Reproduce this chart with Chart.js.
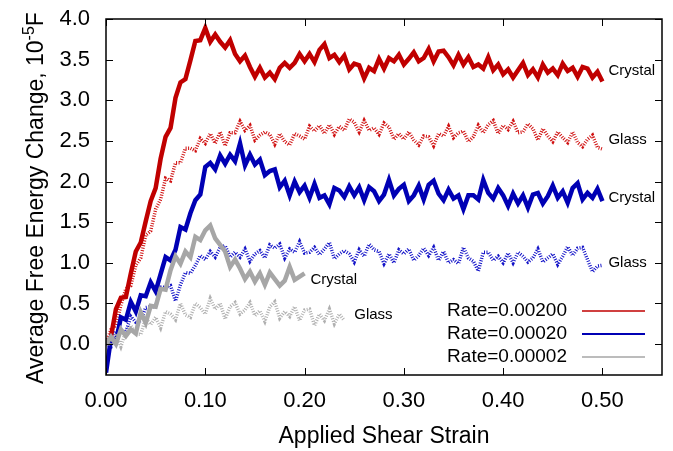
<!DOCTYPE html>
<html>
<head>
<meta charset="utf-8">
<script src="https://cdn.jsdelivr.net/npm/chart.js@4.4.1/dist/chart.umd.min.js"></script>
<style>
  html, body { margin: 0; padding: 0; background: #fff; }
</style>
</head>
<body>
<canvas id="energyCanvas" width="673" height="451"></canvas>
<script>
// strain grid spacing of the sampled curves
var strainStep = 0.005;

var rateLabels = ["Rate=0.00200", "Rate=0.00020", "Rate=0.00002"];
var xTicks = [0, 0.1, 0.2, 0.3, 0.4, 0.5];
var yTicks = [0, 0.5, 1, 1.5, 2, 2.5, 3, 3.5, 4];

// Rate=0.00200
var redCrystal = [
  0.00, 0.09, 0.43, 0.57, 0.58, 0.87, 1.14, 1.25, 1.51, 1.76,
  1.92, 2.28, 2.55, 2.66, 3.03, 3.22, 3.26, 3.49, 3.73, 3.74,
  3.89, 3.72, 3.81, 3.72, 3.65, 3.74, 3.57, 3.48, 3.55, 3.41,
  3.29, 3.40, 3.28, 3.34, 3.26, 3.40, 3.46, 3.40, 3.46, 3.57,
  3.48, 3.57, 3.47, 3.62, 3.69, 3.52, 3.56, 3.47, 3.55, 3.38,
  3.45, 3.43, 3.27, 3.40, 3.36, 3.51, 3.39, 3.52, 3.48, 3.56,
  3.44, 3.51, 3.59, 3.48, 3.52, 3.63, 3.48, 3.60, 3.61, 3.53,
  3.43, 3.56, 3.44, 3.53, 3.41, 3.44, 3.39, 3.53, 3.37, 3.44,
  3.32, 3.38, 3.28, 3.37, 3.46, 3.31, 3.38, 3.28, 3.44, 3.34,
  3.39, 3.31, 3.45, 3.36, 3.40, 3.29, 3.41, 3.39, 3.28, 3.35,
  3.23
];
var redGlass = [
  0.00, 0.18, 0.23, 0.48, 0.68, 0.72, 0.97, 1.06, 1.34, 1.39,
  1.66, 1.78, 2.04, 2.01, 2.23, 2.23, 2.41, 2.41, 2.38, 2.53,
  2.47, 2.59, 2.47, 2.61, 2.44, 2.60, 2.60, 2.74, 2.63, 2.69,
  2.51, 2.57, 2.61, 2.58, 2.46, 2.59, 2.49, 2.45, 2.59, 2.56,
  2.52, 2.68, 2.62, 2.69, 2.59, 2.70, 2.58, 2.68, 2.63, 2.77,
  2.73, 2.61, 2.75, 2.63, 2.66, 2.58, 2.72, 2.67, 2.52, 2.59,
  2.52, 2.61, 2.51, 2.45, 2.56, 2.55, 2.44, 2.59, 2.56, 2.68,
  2.54, 2.60, 2.62, 2.49, 2.55, 2.69, 2.60, 2.70, 2.75, 2.59,
  2.69, 2.64, 2.74, 2.60, 2.61, 2.71, 2.65, 2.51, 2.65, 2.56,
  2.49, 2.61, 2.54, 2.48, 2.61, 2.48, 2.43, 2.52, 2.57, 2.42,
  2.40
];

// Rate=0.00020
var blueCrystal = [
  -0.35, 0.07, 0.03, 0.33, 0.30, 0.52, 0.40, 0.60, 0.59, 0.76,
  0.65, 0.86, 1.07, 1.03, 1.16, 1.44, 1.41, 1.61, 1.77, 1.84,
  2.18, 2.23, 2.15, 2.32, 2.22, 2.33, 2.25, 2.47, 2.20, 2.33,
  2.21, 2.27, 2.08, 2.13, 2.15, 1.93, 2.01, 1.83, 2.00, 1.87,
  1.95, 1.80, 1.97, 1.80, 1.83, 1.72, 1.92, 1.89, 1.81, 1.94,
  1.83, 1.93, 1.77, 1.93, 1.88, 1.76, 1.84, 2.02, 1.83, 1.91,
  1.96, 1.76, 1.83, 1.95, 1.78, 1.96, 2.01, 1.85, 1.77, 1.90,
  1.79, 1.83, 1.66, 1.83, 1.83, 1.78, 2.02, 1.86, 1.79, 1.92,
  1.83, 1.70, 1.85, 1.73, 1.83, 1.68, 1.84, 1.86, 1.73, 1.82,
  1.95, 1.80, 1.88, 1.74, 1.92, 1.98, 1.78, 1.86, 1.80, 1.91,
  1.76
];
var blueGlass = [
  0.00, -0.03, 0.16, 0.17, 0.15, 0.34, 0.27, 0.29, 0.45, 0.46,
  0.46, 0.70, 0.70, 0.72, 0.53, 0.73, 0.88, 0.87, 0.97, 1.09,
  1.04, 1.14, 1.07, 1.19, 1.21, 1.07, 1.13, 1.07, 1.17, 1.02,
  1.11, 1.15, 1.06, 1.22, 1.18, 1.23, 1.06, 1.17, 1.13, 1.26,
  1.12, 1.13, 1.19, 1.10, 1.17, 1.25, 1.05, 1.11, 1.15, 1.11,
  1.01, 1.16, 1.08, 1.23, 1.16, 1.14, 0.99, 1.11, 1.00, 1.16,
  1.11, 1.17, 1.03, 1.09, 1.18, 1.09, 1.19, 1.03, 1.14, 1.00,
  1.04, 0.99, 1.19, 1.06, 1.02, 0.90, 1.13, 1.13, 1.03, 1.08,
  1.00, 1.12, 1.00, 1.13, 1.08, 1.01, 1.06, 1.17, 1.01, 1.06,
  1.11, 0.98, 1.08, 1.20, 1.09, 1.18, 1.19, 1.04, 0.89, 0.96,
  0.97
];

// Rate=0.00002
var grayCrystal = [
  0.00, 0.09, 0.00, 0.18, 0.10, 0.18, 0.13, 0.39, 0.26, 0.47,
  0.46, 0.68, 0.67, 0.91, 1.08, 0.99, 1.14, 1.07, 1.32, 1.28,
  1.40, 1.46, 1.30, 1.22, 1.14, 0.95, 1.04, 0.93, 0.80, 0.89,
  0.77, 0.87, 0.73, 0.88, 0.80, 0.72, 0.78, 0.95, 0.79, 0.83,
  0.87
];
var grayGlass = [
  0.00, 0.00, 0.13, -0.03, 0.16, 0.23, 0.12, 0.12, 0.32, 0.24,
  0.33, 0.20, 0.40, 0.37, 0.30, 0.50, 0.36, 0.33, 0.50, 0.45,
  0.37, 0.56, 0.43, 0.50, 0.31, 0.46, 0.51, 0.37, 0.42, 0.51,
  0.35, 0.41, 0.28, 0.46, 0.52, 0.32, 0.40, 0.34, 0.46, 0.29,
  0.42, 0.43, 0.23, 0.37, 0.29, 0.43, 0.25, 0.37, 0.29
];

// curve annotations (data coordinates)
var curveLabels = [
  { text: "Crystal", x: 0.506, y: 3.36 },
  { text: "Glass", x: 0.506, y: 2.51 },
  { text: "Crystal", x: 0.506, y: 1.80 },
  { text: "Glass", x: 0.506, y: 1.00 },
  { text: "Crystal", x: 0.206, y: 0.79 },
  { text: "Glass", x: 0.250, y: 0.36 }
];

var FONT = "'Liberation Sans', Arial, Helvetica, sans-serif";
var RED = "#c00000", BLUE = "#0000b4", GRAY = "#a6a6a6";

function toPoints(arr) {
  return arr.map(function (v, i) {
    return { x: +(i * strainStep).toFixed(4), y: v };
  });
}

var decorations = {
  id: "decorations",
  afterDatasetsDraw: function (chart) {
    var ctx = chart.ctx;
    var a = chart.chartArea;
    var xs = chart.scales.x, ys = chart.scales.y;
    ctx.save();

    // curve labels
    ctx.fillStyle = "#000";
    ctx.textAlign = "left";
    ctx.textBaseline = "middle";
    ctx.font = "15px " + FONT;
    curveLabels.forEach(function (l) {
      ctx.fillText(l.text, xs.getPixelForValue(l.x), ys.getPixelForValue(l.y));
    });

    // key, bottom right
    var colors = [RED, BLUE, GRAY];
    var widths = [1.5, 2, 1.5];
    ctx.font = "19px " + FONT;
    ctx.textAlign = "right";
    for (var i = 0; i < rateLabels.length; i++) {
      var ky = 311 + i * 23;
      ctx.fillStyle = "#000";
      ctx.fillText(rateLabels[i], 567, ky);
      ctx.strokeStyle = colors[i];
      ctx.lineWidth = widths[i];
      ctx.beginPath();
      ctx.moveTo(582, ky);
      ctx.lineTo(645, ky);
      ctx.stroke();
    }

    // frame and inward tick marks, mirrored
    ctx.strokeStyle = "#000";
    ctx.lineWidth = 1.5;
    ctx.strokeRect(a.left, a.top, a.right - a.left, a.bottom - a.top);
    ctx.lineWidth = 1;
    ctx.beginPath();
    xTicks.forEach(function (v) {
      var px = Math.round(xs.getPixelForValue(v)) + 0.5;
      ctx.moveTo(px, a.bottom); ctx.lineTo(px, a.bottom - 7);
      ctx.moveTo(px, a.top); ctx.lineTo(px, a.top + 7);
    });
    yTicks.forEach(function (v) {
      var py = Math.round(ys.getPixelForValue(v)) + 0.5;
      ctx.moveTo(a.left, py); ctx.lineTo(a.left + 7, py);
      ctx.moveTo(a.right, py); ctx.lineTo(a.right - 7, py);
    });
    ctx.stroke();

    // axis titles
    ctx.fillStyle = "#000";
    ctx.font = "23px " + FONT;
    ctx.textAlign = "center";
    ctx.textBaseline = "alphabetic";
    ctx.fillText("Applied Shear Strain", (a.left + a.right) / 2, 443);

    var main = "Average Free Energy Change, 10", sup = "-5", tail = "F";
    ctx.translate(43, 198);
    ctx.rotate(-Math.PI / 2);
    ctx.textAlign = "left";
    ctx.font = "23px " + FONT;
    var w1 = ctx.measureText(main).width;
    var w3 = ctx.measureText(tail).width;
    ctx.font = "16px " + FONT;
    var w2 = ctx.measureText(sup).width;
    var x0 = -(w1 + w2 + w3) / 2;
    ctx.font = "23px " + FONT;
    ctx.fillText(main, x0, 0);
    ctx.font = "16px " + FONT;
    ctx.fillText(sup, x0 + w1, -9);
    ctx.font = "23px " + FONT;
    ctx.fillText(tail, x0 + w1 + w2, 0);

    ctx.restore();
  }
};

var crystalLine = { borderWidth: 4.5, borderJoinStyle: "miter" };
var glassLine = { borderWidth: 3.5, borderDash: [1, 1.5] };

var energyChart = new Chart(document.getElementById("energyCanvas"), {
  type: "line",
  data: {
    datasets: [
      Object.assign({ label: "Crystal " + rateLabels[2], data: toPoints(grayCrystal), borderColor: GRAY }, crystalLine),
      Object.assign({ label: "Glass " + rateLabels[2], data: toPoints(grayGlass), borderColor: "#b0b0b0" }, glassLine),
      Object.assign({ label: "Crystal " + rateLabels[1], data: toPoints(blueCrystal), borderColor: BLUE }, crystalLine),
      Object.assign({ label: "Glass " + rateLabels[1], data: toPoints(blueGlass), borderColor: "#1414c8" }, glassLine),
      Object.assign({ label: "Crystal " + rateLabels[0], data: toPoints(redCrystal), borderColor: RED }, crystalLine),
      Object.assign({ label: "Glass " + rateLabels[0], data: toPoints(redGlass), borderColor: "#d01010" }, glassLine)
    ]
  },
  options: {
    responsive: false,
    animation: false,
    devicePixelRatio: 1,
    layout: { padding: { top: 19, right: 11, left: 0, bottom: 0 } },
    elements: { point: { radius: 0 }, line: { tension: 0, fill: false } },
    plugins: { legend: { display: false }, tooltip: { enabled: false } },
    scales: {
      x: {
        type: "linear",
        min: 0,
        max: 0.56,
        afterBuildTicks: function (s) { s.ticks = xTicks.map(function (v) { return { value: v }; }); },
        afterFit: function (s) { s.height = 76; s.paddingLeft = 0; s.paddingRight = 0; },
        grid: { display: false, drawTicks: false },
        border: { display: false },
        ticks: {
          autoSkip: false, maxRotation: 0, padding: 13, color: "#000",
          font: { family: FONT, size: 22 },
          callback: function (v) { return v.toFixed(2); }
        }
      },
      y: {
        type: "linear",
        min: -0.38,
        max: 4.0,
        afterBuildTicks: function (s) { s.ticks = yTicks.map(function (v) { return { value: v }; }); },
        afterFit: function (s) { s.width = 106; s.paddingTop = 0; s.paddingBottom = 0; },
        grid: { display: false, drawTicks: false },
        border: { display: false },
        ticks: {
          autoSkip: false, padding: 16, color: "#000",
          font: { family: FONT, size: 22 },
          callback: function (v) { return v.toFixed(1); }
        }
      }
    }
  },
  plugins: [decorations]
});
</script>
</body>
</html>
